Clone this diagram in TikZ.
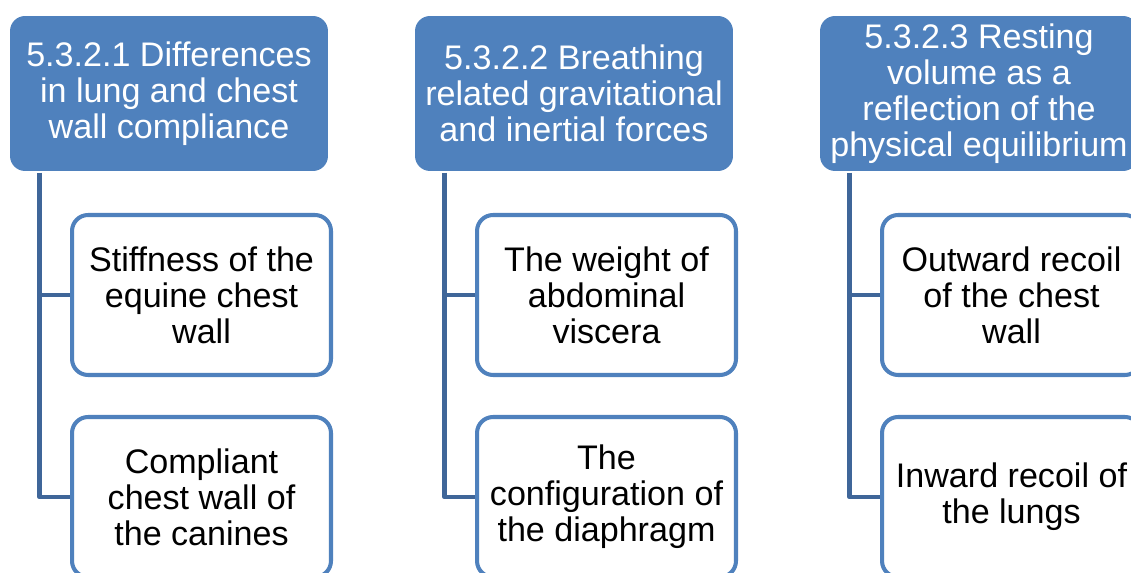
\documentclass[tikz,border=0pt]{standalone}
\usepackage{fontspec}
\setmainfont{Liberation Sans}

\definecolor{hdrblue}{HTML}{4F81BD}
\definecolor{lineblue}{HTML}{3F6699}

\tikzset{
  header/.style={fill=hdrblue, rounded corners=0.3cm, minimum width=6.36cm,
    minimum height=3.1cm, inner sep=0pt, align=center, text=white,
    font=\fontsize{19.4pt}{20.5pt}\selectfont},
  item/.style={draw=hdrblue, line width=2.3pt, fill=white, rounded corners=0.32cm,
    minimum width=5.18cm, minimum height=3.2cm, inner sep=0pt, align=center,
    font=\fontsize{19.4pt}{20.5pt}\selectfont},
  link/.style={draw=lineblue, line width=2.5pt, line join=round}
}

\begin{document}
\begin{tikzpicture}[x=0.02cm, y=-0.02cm]

  \clip (0,0) rectangle (1131,573);

  % Column 1
  \node[header] (h1) at (169,93.5) {5.3.2.1 Differences\\in lung and chest\\wall compliance};
  \coordinate (t1) at (39.5,173);
  \draw[link] (t1) |- (201.5,295) coordinate (e11);
  \draw[link] (t1) |- (201.5,497) coordinate (e12);
  \node[item] (c11) at (e11) {Stiffness of the\\equine chest\\wall};
  \node[item] (c12) at (e12) {Compliant\\chest wall of\\the canines};

  % Column 2
  \node[header] (h2) at (574,93.5) {5.3.2.2 Breathing\\related gravitational\\and inertial forces};
  \coordinate (t2) at (444.5,173);
  \draw[link] (t2) |- (606.5,295) coordinate (e21);
  \draw[link] (t2) |- (606.5,497) coordinate (e22);
  \node[item] (c21) at (e21) {The weight of\\abdominal\\viscera};
  \node[item] (c22) at (e22) {The\\configuration of\\the diaphragm};

  % Column 3
  \node[header] (h3) at (979,93.5) {5.3.2.3 Resting\\volume as a\\reflection of the\\physical equilibrium};
  \coordinate (t3) at (849.5,173);
  \draw[link] (t3) |- (1011.5,295) coordinate (e31);
  \draw[link] (t3) |- (1011.5,497) coordinate (e32);
  \node[item] (c31) at (e31) {Outward recoil\\of the chest\\wall};
  \node[item] (c32) at (e32) {Inward recoil of\\the lungs};

\end{tikzpicture}
\end{document}
